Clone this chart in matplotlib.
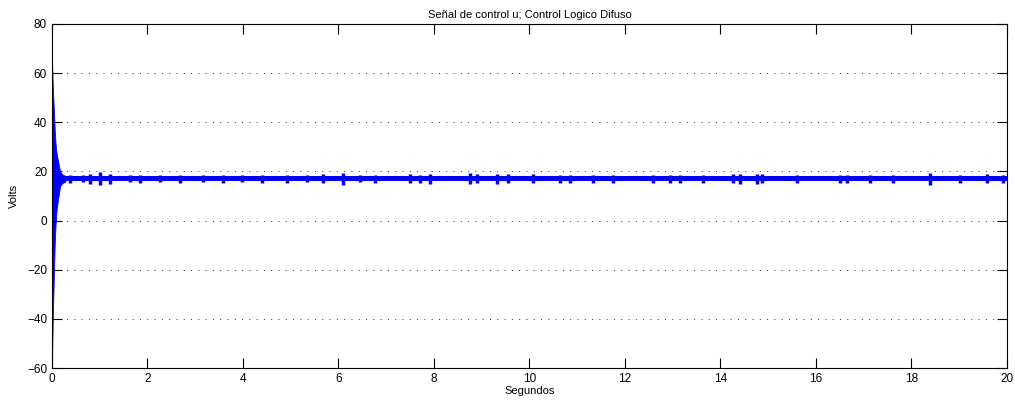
import matplotlib
matplotlib.use("Agg")
import matplotlib.pyplot as plt
import numpy as np

plt.rcParams['font.family'] = ['Liberation Sans', 'DejaVu Sans']

# Initial transient envelope (s, V)
trans_t = [0.0, 0.005, 0.02, 0.04, 0.06, 0.08, 0.10, 0.13, 0.17, 0.22, 0.28]
trans_hi = [62, 62, 53, 45, 36, 30, 27, 24, 20, 18.7, 18.2]
trans_lo = [-60, -52, -37, -22, -8, 0, 5, 9, 14, 15.3, 15.8]

# Steady-state band (s, V)
steady_t = [0.28, 20.0]
steady_hi = [18.0, 18.0]
steady_lo = [16.0, 16.0]

# Bursts: time (s) and half amplitude (V)
burst_t = [0.38, 0.65, 0.80, 1.01, 1.22, 1.63, 1.84, 2.26, 2.68, 3.16,
           3.58, 3.99, 4.40, 4.92, 5.34, 5.68, 6.09, 6.45,
           6.76, 7.50, 7.71, 7.92, 8.75, 8.90, 9.32, 9.55,
           10.07, 10.64, 10.85, 11.33, 11.75, 12.59, 12.94, 13.15,
           13.63, 14.26, 14.41, 14.76, 14.87, 15.60, 16.50, 16.65,
           17.13, 17.61, 18.39, 19.02, 19.58, 19.92]
burst_amp = [1.7, 1.5, 2.0, 2.6, 2.0, 1.5, 1.7, 1.5, 1.7, 1.5,
             1.7, 1.5, 1.6, 1.7, 1.5, 1.8, 2.4, 1.5,
             1.6, 1.8, 1.7, 2.0, 2.3, 1.8, 2.0, 1.8,
             1.8, 1.7, 1.6, 1.7, 1.7, 1.6, 1.7, 1.6,
             1.7, 1.8, 2.0, 2.1, 1.8, 1.7, 1.6, 1.7,
             1.7, 1.7, 2.4, 1.7, 1.8, 1.7]

xticks = list(range(0, 21, 2))
yticks = list(range(-60, 81, 20))

fig = plt.figure(figsize=(10.15, 4.04), dpi=100)
ax = fig.add_axes([0.0512, 0.0891, 0.9408, 0.8515])

blue = '#0000ff'
ax.fill_between(trans_t, trans_lo, trans_hi, color=blue, linewidth=0.6, edgecolor=blue)
ax.fill_between(steady_t, steady_lo, steady_hi, color=blue, linewidth=0)
bt = np.array(burst_t)
ba = np.array(burst_amp)
ax.vlines(bt, 17.0 - ba, 17.0 + ba, color=blue, linewidth=2.5)

ax.set_xlim(0, 20)
ax.set_ylim(-60, 80)
ax.set_xticks(xticks)
ax.set_yticks(yticks)
ax.tick_params(direction='in', length=7, top=True, right=True, labelsize=8.5, width=0.8)
ax.yaxis.grid(True, linestyle=(0, (1, 6.5)), color='#333333', linewidth=0.7)
for s in ax.spines.values():
    s.set_linewidth(0.8)

ax.set_title('Señal de control u; Control Logico Difuso', fontsize=8, pad=4)
ax.set_xlabel('Segundos', fontsize=8, labelpad=1)
ax.set_ylabel('Volts', fontsize=8, labelpad=6)

fig.savefig('out.png', dpi=100)
